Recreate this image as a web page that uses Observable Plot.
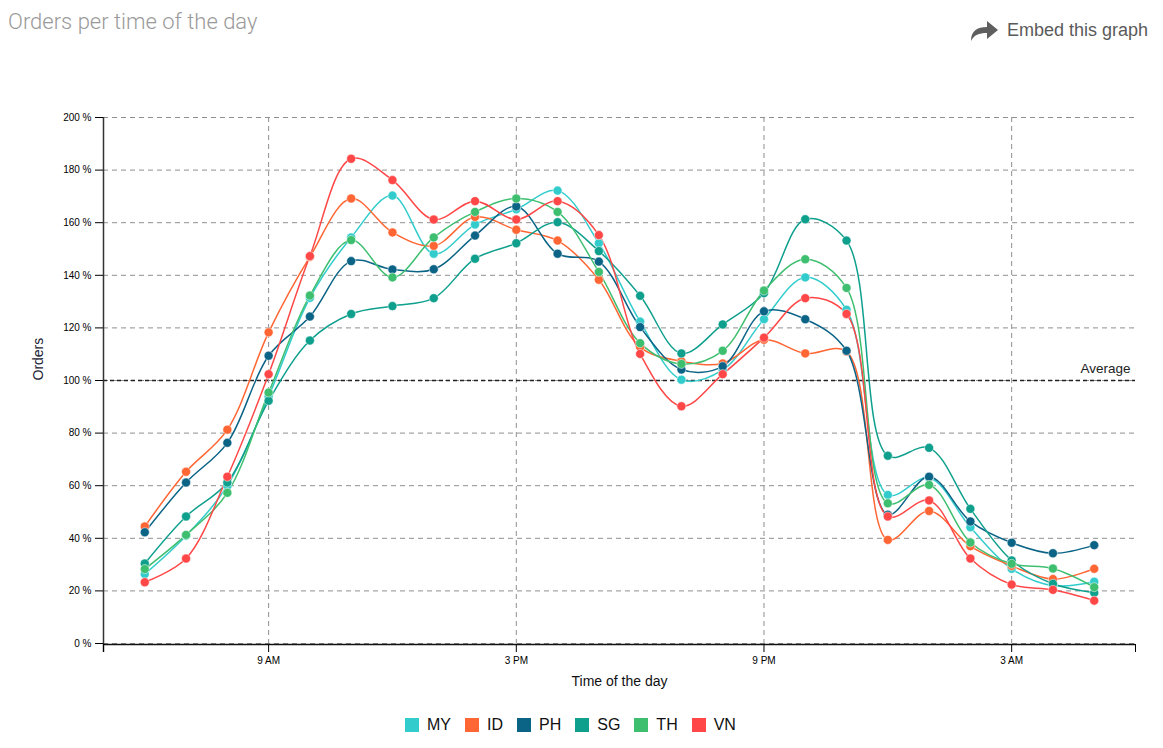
<!DOCTYPE html>
<html>
<head>
<meta charset="utf-8">
<script src="https://cdn.jsdelivr.net/npm/d3@7"></script>
<script src="https://cdn.jsdelivr.net/npm/@observablehq/plot@0.6"></script>
<style>
  html, body { margin: 0; padding: 0; background: #fff; }
  body { width: 1163px; height: 748px; position: relative; overflow: hidden; font-family: "Liberation Sans", Arial, sans-serif; }
  #title { position: absolute; left: 8px; top: 9px; font-family: Roboto, sans-serif; font-weight: 300; font-size: 22px; color: #9a9a9a; }
  #embed { position: absolute; right: 15px; top: 19px; display: flex; align-items: center; font-size: 18px; color: #5a5a5a; }
  #embed svg { margin-right: 8px; }
  #chart { position: absolute; left: 0; top: 90px; }
  #legend { position: absolute; left: 405px; top: 716px; display: flex; align-items: center; font-size: 16px; color: #111; }
  .item { display: flex; align-items: center; margin-right: 14px; }
  .sw { width: 14px; height: 14px; margin-right: 8px; }
</style>
</head>
<body>
<div id="title">Orders per time of the day</div>
<div id="embed"><svg width="30" height="22" viewBox="0 0 30 22"><path d="M2 22 C2 12 8 8 18 8 L18 2 L29 11 L18 20 L18 14 C10 14 5 16 2 22 Z" fill="#5f5f5f"/></svg>Embed this graph</div>
<div id="chart"></div>
<div id="legend"></div>
<script>
// hours of the day, 6 AM .. 5 AM next day (next-day hours written as 24+h)
const hours = [6,7,8,9,10,11,12,13,14,15,16,17,18,19,20,21,22,23,24,25,26,27,28,29];
const countries = ["MY","ID","PH","SG","TH","VN"];
const colors = ["#33CCCC","#FF6633","#0B6386","#0E9F8D","#3EBF70","#FF4747"];
const xTicks = [5,9,15,21,27,30];
const xTickLabels = ["","9 AM","3 PM","9 PM","3 AM",""];
const yTicks = [0,20,40,60,80,100,120,140,160,180,200];

const MY = [26.4,41,60,94,131.4,154.4,170.3,148.2,159.3,165.1,172.2,152.2,122.4,100.3,104,123.3,139.2,126.9,56.5,63,44.2,28.4,22,23.5];
const ID = [44.5,65.3,81.3,118.3,147,169.2,156.3,151.2,162.2,157.3,153.2,138.3,112.7,107.3,106.5,115.5,110.3,111,39.4,50.4,37.0,29.5,24.5,28.4];
const PH = [42.3,61.2,76.3,109.4,124.3,145.4,142.2,142.3,155.1,166.2,148.2,145.2,120.3,104.2,105.4,126.3,123.3,111.3,49,63.4,46.4,38.3,34.3,37.4];
const SG = [30.4,48.3,61.2,92.3,115.2,125.3,128.3,131.3,146.3,152.2,160.2,149.2,132.2,110.3,121.3,133.2,161.3,153.2,71.4,74.4,51.2,31.6,22.7,19.3];
const TH = [28.3,41.3,57.3,95.4,132.3,153.4,139.2,154.4,164.1,169.2,164.1,141.3,114.2,106.3,111.3,134.2,146.1,135.2,53.3,60.3,38.4,30.3,28.5,21.4];
const VN = [23.3,32.3,63.4,102.4,147.3,184.3,176.2,161.2,168.2,161.2,168.2,155.3,110.1,90.2,102.4,116.3,131.3,125.3,48.3,54.4,32.3,22.4,20.4,16.3];
const averageValue = [100];

const series = {MY, ID, PH, SG, TH, VN};
const rows = [];
for (const c of countries) series[c].forEach((v, i) => rows.push({country: c, hour: hours[i], value: v}));

const gridStyle = {stroke: "#8f8f8f", strokeOpacity: 1, strokeDasharray: "5,4", strokeWidth: 1};

const chart = Plot.plot({
  width: 1163,
  height: 603,
  marginLeft: 103,
  marginRight: 28,
  marginTop: 27,
  marginBottom: 50,
  style: {fontFamily: "'Liberation Sans', Arial, sans-serif", fontSize: "10px", color: "#000", background: "transparent"},
  x: {domain: [5, 30]},
  y: {domain: [0, 200]},
  color: {domain: countries, range: colors},
  marks: [
    Plot.gridY(yTicks, gridStyle),
    Plot.gridX([9,15,21,27], gridStyle),
    Plot.ruleY(averageValue, {stroke: "#222", strokeWidth: 1.5, strokeDasharray: "4,3"}),
    Plot.text(averageValue, {x: 30, y: d => d, text: () => "Average", textAnchor: "end", dx: -5, dy: -12, fontSize: 13.5, fill: "#222"}),
    Plot.ruleX([5], {stroke: "#333", strokeWidth: 1.5, insetBottom: -9}),
    Plot.ruleY([0], {stroke: "#111", strokeWidth: 1.5, dy: 1}),
    Plot.axisY({ticks: yTicks, tickFormat: d => d + " %", tickSize: 8, tickPadding: 4, label: null, fontSize: 10}),
    Plot.axisX({ticks: xTicks, tickFormat: (d, i) => xTickLabels[i], tickSize: 8, tickPadding: 4, label: null, fontSize: 10, dy: 1}),
    Plot.text(["Orders"], {frameAnchor: "left", dx: -65, rotate: -90, text: d => d, fontSize: 14, fill: "#1a2233"}),
    Plot.text(["Time of the day"], {frameAnchor: "bottom", dy: 42, text: d => d, fontSize: 14, fill: "#111"}),
    Plot.line(rows, {x: "hour", y: "value", z: "country", stroke: "country", curve: "catmull-rom", strokeWidth: 1.5}),
    Plot.dot(rows, {x: "hour", y: "value", fill: "country", r: 4.5, stroke: "white", strokeWidth: 0.5})
  ]
});
document.getElementById("chart").appendChild(chart);

const legend = document.getElementById("legend");
countries.forEach((c, i) => {
  const it = document.createElement("div");
  it.className = "item";
  it.innerHTML = `<div class="sw" style="background:${colors[i]}"></div><span>${c}</span>`;
  legend.appendChild(it);
});
</script>
</body>
</html>
